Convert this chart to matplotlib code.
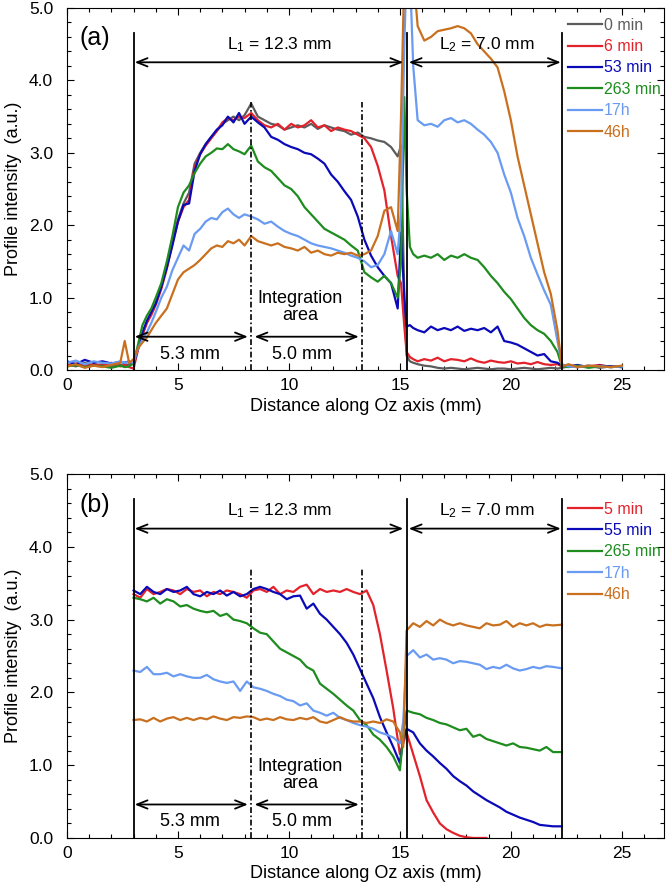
import numpy as np
import matplotlib
matplotlib.use('Agg')
import matplotlib.pyplot as plt
from matplotlib.ticker import MultipleLocator, FormatStrFormatter

plt.rcParams['font.family'] = ['Liberation Sans', 'DejaVu Sans']
plt.rcParams['mathtext.fontset'] = 'custom'
plt.rcParams['mathtext.rm'] = 'Liberation Sans'
plt.rcParams['mathtext.it'] = 'Liberation Sans:italic'

# ---- panel (a) : sampling positions along Oz (mm) ----
xa = [0, 0.4, 0.8, 1.2, 1.6, 2.0, 2.4, 2.6, 2.8,
      3.0, 3.2, 3.4, 3.6, 3.8, 4.0,
      4.25, 4.5, 4.75, 5.0, 5.25, 5.5, 5.75, 6.0, 6.25, 6.5, 6.75, 7.0, 7.25, 7.5, 7.75, 8.0,
      8.3, 8.6, 8.9, 9.2, 9.5, 9.8, 10.1, 10.4, 10.7, 11.0, 11.3, 11.6, 11.9, 12.2, 12.5, 12.8,
      13.1, 13.4, 13.7, 14.0, 14.3, 14.6, 14.9,
      15.05, 15.2, 15.3, 15.45, 15.6, 15.8,
      16.1, 16.4, 16.7, 17.0, 17.3, 17.6, 17.9, 18.2, 18.5, 18.8, 19.1, 19.4, 19.7, 20.0, 20.3,
      20.6, 20.9, 21.2, 21.5, 21.8, 22.1,
      22.3, 22.6, 23.0, 23.5, 24.0, 24.5, 25.0]

a_0min = [0.08, 0.05, 0.1, 0.06, 0.08, 0.05, 0.07, 0.06, 0.08,
          0.08, 0.3, 0.5, 0.66, 0.78, 0.92,
          1.15, 1.45, 1.78, 2.08, 2.3, 2.45, 2.85, 3.0, 3.12, 3.22, 3.3, 3.4, 3.45, 3.5, 3.45, 3.52,
          3.68, 3.5, 3.45, 3.4, 3.38, 3.32, 3.35, 3.38, 3.35, 3.4, 3.33, 3.38, 3.35, 3.32, 3.3, 3.25,
          3.28, 3.22, 3.2, 3.17, 3.15, 3.08, 2.95,
          3.1, 1.0, 0.2, 0.12, 0.1, 0.08,
          0.06, 0.05, 0.03, 0.02, 0.03, 0.02, 0.01, 0.02, 0.03, 0.02, 0.01, 0.02, 0.02, 0.01, 0.02,
          0.03, 0.02, 0.01, 0.02, 0.03, 0.02,
          0.03, 0.05, 0.04, 0.06, 0.03, 0.05, 0.04]

a_6min = [0.06, 0.09, 0.05, 0.08, 0.06, 0.1, 0.05, 0.07, 0.04,
          0.02, 0.28, 0.48, 0.65, 0.76, 0.9,
          1.12, 1.4, 1.75, 2.05, 2.25, 2.35, 2.8, 2.98, 3.1, 3.2, 3.3, 3.42, 3.48, 3.45, 3.5, 3.48,
          3.55, 3.45, 3.38, 3.35, 3.4, 3.32, 3.4, 3.35, 3.38, 3.45, 3.35, 3.38, 3.3, 3.35, 3.32, 3.3,
          3.25, 3.2, 3.08, 2.82, 2.48, 1.85, 1.3,
          1.2, 0.6, 0.25, 0.18, 0.15, 0.12,
          0.15, 0.13, 0.17, 0.12, 0.15, 0.14, 0.12, 0.16, 0.12, 0.1, 0.13, 0.11, 0.1, 0.12, 0.09,
          0.1, 0.08, 0.11, 0.08, 0.07, 0.08,
          0.05, 0.06, 0.04, 0.05, 0.07, 0.04, 0.05]

a_53min = [0.12, 0.08, 0.14, 0.1, 0.12, 0.09, 0.11, 0.1, 0.12,
           0.08, 0.3, 0.52, 0.68, 0.8, 0.92,
           1.15, 1.42, 1.72, 2.05, 2.28, 2.3, 2.75, 2.98, 3.12, 3.22, 3.32, 3.38, 3.5, 3.42, 3.55, 3.4,
           3.5, 3.42, 3.35, 3.22, 3.18, 3.12, 3.08, 3.05, 3.0, 2.98, 2.92, 2.85, 2.7, 2.6, 2.47, 2.35,
           2.12, 1.8, 1.58, 1.42, 1.3, 1.2, 0.85,
           1.9, 1.0, 0.6, 0.62, 0.58, 0.55,
           0.52, 0.6, 0.55, 0.58, 0.55, 0.6, 0.54, 0.57, 0.55, 0.58, 0.52, 0.6, 0.4, 0.38, 0.35,
           0.3, 0.25, 0.2, 0.22, 0.12, 0.1,
           0.06, 0.05, 0.07, 0.04, 0.06, 0.05, 0.04]

a_263min = [0.05, 0.07, 0.04, 0.06, 0.05, 0.03, 0.06, 0.04, 0.05,
            0.1, 0.35, 0.62, 0.75, 0.85, 1.0,
            1.2, 1.5, 1.85, 2.25, 2.45, 2.55, 2.72, 2.85, 2.95, 3.0, 3.06, 3.05, 3.12, 3.05, 3.02, 2.98,
            3.1, 2.88, 2.8, 2.75, 2.65, 2.55, 2.5, 2.4, 2.25, 2.15, 2.05, 1.95, 1.9, 1.85, 1.8, 1.72,
            1.65, 1.35, 1.28, 1.22, 1.3, 1.2, 1.0,
            1.5, 3.77, 2.5, 1.7, 1.6, 1.55,
            1.58, 1.55, 1.6, 1.52, 1.58, 1.55, 1.6, 1.55, 1.52, 1.42, 1.3, 1.2, 1.08, 0.98, 0.85,
            0.72, 0.62, 0.55, 0.5, 0.4, 0.25,
            0.05, 0.04, 0.06, 0.03, 0.05, 0.04, 0.05]

a_17h = [0.1, 0.13, 0.08, 0.12, 0.1, 0.09, 0.12, 0.1, 0.11,
         0.1, 0.3, 0.42, 0.52, 0.65, 0.8,
         1.0, 1.15, 1.38, 1.55, 1.72, 1.65, 1.88, 1.95, 2.05, 2.1, 2.08, 2.18, 2.23, 2.15, 2.1, 2.15,
         2.12, 2.08, 2.02, 2.05, 1.98, 1.92, 1.88, 1.85, 1.8, 1.75, 1.72, 1.7, 1.68, 1.65, 1.62, 1.58,
         1.55, 1.5, 1.42, 1.45, 1.6, 1.92, 1.6,
         2.2, 4.5, 5.5, 5.5, 4.2, 3.45,
         3.38, 3.4, 3.36, 3.45, 3.48, 3.42, 3.45, 3.4, 3.32, 3.25, 3.15, 3.0, 2.7, 2.45, 2.1,
         1.85, 1.55, 1.32, 1.1, 0.9, 0.4,
         0.08, 0.05, 0.04, 0.06, 0.05, 0.04, 0.05]

a_46h = [0.05, 0.08, 0.03, 0.06, 0.04, 0.07, 0.1, 0.4, 0.1,
         0.15, 0.3, 0.38, 0.45, 0.55, 0.65,
         0.75, 0.85, 1.05, 1.25, 1.35, 1.4, 1.45, 1.52, 1.6, 1.68, 1.72, 1.7, 1.78, 1.75, 1.8, 1.72,
         1.85, 1.78, 1.75, 1.72, 1.75, 1.7, 1.68, 1.65, 1.7, 1.62, 1.65, 1.6, 1.58, 1.62, 1.6, 1.62,
         1.58, 1.6, 1.65, 1.85, 2.2, 2.25, 1.92,
         3.5, 5.5, 5.5, 5.5, 5.5, 4.75,
         4.55, 4.6, 4.68, 4.7, 4.72, 4.75, 4.72, 4.65, 4.5, 4.4, 4.3, 4.18, 3.85, 3.45, 2.95,
         2.55, 2.15, 1.75, 1.35, 1.05, 0.55,
         0.05, 0.08, 0.04, 0.06, 0.05, 0.04, 0.06]

# ---- panel (b) ----
xb = [3.0, 3.3, 3.6, 3.9, 4.2, 4.5, 4.8, 5.1, 5.4, 5.7,
      6.0, 6.3, 6.6, 6.9, 7.2, 7.5, 7.8, 8.1, 8.4, 8.7,
      9.0, 9.3, 9.6, 9.9, 10.2, 10.5, 10.8, 11.1, 11.4, 11.7,
      12.0, 12.3, 12.6, 12.9, 13.2, 13.5, 13.8, 14.1, 14.4, 14.7,
      15.0, 15.15, 15.3, 15.6, 15.9, 16.2, 16.5, 16.8, 17.1, 17.4,
      17.7, 18.0, 18.3, 18.6, 18.9, 19.2, 19.5, 19.8, 20.1, 20.4,
      20.7, 21.0, 21.3, 21.6, 21.9, 22.3]

nan = np.nan
b_5min = [3.35, 3.3, 3.42, 3.35, 3.38, 3.42, 3.4, 3.35, 3.42, 3.38,
          3.4, 3.32, 3.38, 3.35, 3.4, 3.38, 3.35, 3.3, 3.4, 3.42,
          3.38, 3.45, 3.35, 3.4, 3.38, 3.45, 3.48, 3.35, 3.42, 3.38,
          3.4, 3.38, 3.42, 3.38, 3.35, 3.4, 3.2, 2.8, 2.3, 1.78,
          1.15, 1.3, 1.45, 1.15, 0.85, 0.52, 0.35, 0.2, 0.12, 0.07,
          0.03, 0.01, 0.0, 0.0, 0.0, nan, nan, nan, nan, nan,
          nan, nan, nan, nan, nan, nan]

b_55min = [3.4, 3.35, 3.45, 3.38, 3.35, 3.42, 3.38, 3.4, 3.45, 3.35,
           3.32, 3.38, 3.35, 3.4, 3.33, 3.38, 3.32, 3.35, 3.42, 3.45,
           3.42, 3.38, 3.35, 3.28, 3.32, 3.33, 3.15, 3.22, 3.08, 3.0,
           2.9, 2.8, 2.68, 2.52, 2.32, 2.12, 1.92, 1.66, 1.45, 1.25,
           1.03, 1.35, 1.5, 1.45, 1.3, 1.2, 1.12, 1.03, 0.95, 0.85,
           0.78, 0.72, 0.64, 0.58, 0.52, 0.47, 0.42, 0.36, 0.32, 0.28,
           0.25, 0.22, 0.18, 0.17, 0.16, 0.16]

b_265min = [3.3, 3.28, 3.25, 3.3, 3.22, 3.28, 3.25, 3.18, 3.2, 3.15,
            3.12, 3.1, 3.12, 3.05, 3.08, 3.0, 2.98, 2.95, 2.88, 2.82,
            2.8, 2.7, 2.6, 2.55, 2.5, 2.45, 2.35, 2.3, 2.12, 2.05,
            1.98, 1.9, 1.82, 1.75, 1.62, 1.55, 1.42, 1.35, 1.25, 1.12,
            0.93, 1.4, 1.75, 1.72, 1.7, 1.65, 1.62, 1.58, 1.56, 1.52,
            1.48, 1.5, 1.39, 1.42, 1.36, 1.33, 1.3, 1.27, 1.3, 1.25,
            1.24, 1.22, 1.2, 1.25, 1.18, 1.18]

b_17h = [2.3, 2.28, 2.35, 2.25, 2.25, 2.27, 2.22, 2.25, 2.22, 2.2,
         2.2, 2.24, 2.18, 2.15, 2.13, 2.15, 2.02, 2.15, 2.07, 2.05,
         2.02, 1.98, 1.95, 1.9, 1.88, 1.82, 1.85, 1.75, 1.72, 1.68,
         1.72, 1.65, 1.62, 1.58, 1.55, 1.53, 1.5, 1.45, 1.42, 1.38,
         1.3, 1.6, 2.5, 2.58, 2.48, 2.52, 2.45, 2.47, 2.45, 2.4,
         2.43, 2.42, 2.4, 2.38, 2.32, 2.35, 2.33, 2.38, 2.33, 2.3,
         2.32, 2.35, 2.33, 2.36, 2.35, 2.33]

b_46h = [1.62, 1.63, 1.6, 1.65, 1.6, 1.64, 1.66, 1.62, 1.65, 1.62,
         1.65, 1.63, 1.67, 1.64, 1.62, 1.66, 1.65, 1.67, 1.66, 1.62,
         1.64, 1.62, 1.66, 1.63, 1.62, 1.65, 1.63, 1.66, 1.6, 1.58,
         1.62, 1.66, 1.62, 1.6, 1.6, 1.58, 1.6, 1.58, 1.63, 1.6,
         1.45, 1.25, 2.85, 2.95, 2.9, 2.98, 2.92, 3.0, 2.95, 2.92,
         2.95, 2.92, 2.9, 2.88, 2.95, 2.92, 2.93, 2.98, 2.9, 2.95,
         2.92, 2.95, 2.9, 2.93, 2.92, 2.93]

labels_a = ['0 min', '6 min', '53 min', '263 min', '17h', '46h']
labels_b = ['5 min', '55 min', '265 min', '17h', '46h']

c_gray, c_red, c_blue = '#5c5c5c', '#e3222b', '#0a0ab8'
c_green, c_lblue, c_orange = '#1e8c1e', '#6a9bf2', '#c9701f'
colors_a = [c_gray, c_red, c_blue, c_green, c_lblue, c_orange]
colors_b = [c_red, c_blue, c_green, c_lblue, c_orange]

# geometry of the cell (mm)
x_in, x_mid, x_out = 3.0, 15.3, 22.3
x_int1, x_int2 = 8.3, 13.3

fig = plt.figure(figsize=(6.66, 8.89), dpi=100)
ax_a = fig.add_axes([0.1006, 0.5838, 0.8964, 0.4072])
ax_b = fig.add_axes([0.1006, 0.0574, 0.8964, 0.4094])


def decorate(ax, tag):
    ax.set_xlim(0, 26.9)
    ax.set_ylim(0, 5.0)
    ax.xaxis.set_major_locator(MultipleLocator(5))
    ax.xaxis.set_minor_locator(MultipleLocator(1))
    ax.yaxis.set_major_locator(MultipleLocator(1))
    ax.yaxis.set_minor_locator(MultipleLocator(0.2))
    ax.yaxis.set_major_formatter(FormatStrFormatter('%.1f'))
    ax.tick_params(which='both', direction='in', top=True, right=True, width=0.8)
    ax.tick_params(which='major', length=5, labelsize=12.5)
    ax.tick_params(which='minor', length=3)
    ax.tick_params(axis='y', pad=10)
    ax.tick_params(axis='x', pad=6)
    for s in ax.spines.values():
        s.set_linewidth(0.8)
    ax.set_xlabel('Distance along Oz axis (mm)', fontsize=13, labelpad=3)
    ax.set_ylabel('Profile intensity  (a.u.)', fontsize=13, labelpad=5)

    # cell boundaries and integration limits
    for xv in (x_in, x_mid, x_out):
        ax.plot([xv, xv], [0, 4.65], color='black', lw=1.3, zorder=5)
    for xv in (x_int1, x_int2):
        ax.plot([xv, xv], [0, 3.7], color='black', lw=1.2,
                linestyle=(0, (3.5, 1.5, 1, 1.5)), zorder=5)

    arr = dict(arrowstyle='<->,head_length=0.75,head_width=0.3', color='black',
               lw=1.3, shrinkA=0, shrinkB=0)
    ax.annotate('', xy=(x_in + 0.05, 4.25), xytext=(x_mid - 0.15, 4.25), arrowprops=arr)
    ax.annotate('', xy=(x_mid + 0.1, 4.25), xytext=(x_out - 0.05, 4.25), arrowprops=arr)
    ax.annotate('', xy=(x_in + 0.05, 0.46), xytext=(x_int1 - 0.15, 0.46), arrowprops=arr)
    ax.annotate('', xy=(x_int1 + 0.15, 0.46), xytext=(x_int2 - 0.15, 0.46), arrowprops=arr)

    ax.text(9.6, 4.5, r'L$_1$ = 12.3 mm', fontsize=12.5, ha='center', va='center')
    ax.text(18.9, 4.5, r'L$_2$ = 7.0 mm', fontsize=12.5, ha='center', va='center')
    ax.text(5.55, 0.22, '5.3 mm', fontsize=13, ha='center', va='center')
    ax.text(10.6, 0.22, '5.0 mm', fontsize=13, ha='center', va='center')
    ax.text(10.5, 0.87, 'Integration\narea', fontsize=13, ha='center', va='center',
            linespacing=1.0)
    ax.text(1.25, 4.58, tag, fontsize=18, ha='center', va='center')


for y, lab, col in zip([a_0min, a_6min, a_53min, a_263min, a_17h, a_46h], labels_a, colors_a):
    ax_a.plot(xa, y, color=col, lw=1.6, label=lab)
for y, lab, col in zip([b_5min, b_55min, b_265min, b_17h, b_46h], labels_b, colors_b):
    ax_b.plot(xb, y, color=col, lw=1.6, label=lab)

decorate(ax_a, '(a)')
decorate(ax_b, '(b)')

for ax, ytop in ((ax_a, 0.982), (ax_b, 0.933)):
    ax.legend(loc='upper right', bbox_to_anchor=(1.0, ytop), frameon=False, fontsize=11.5,
              handlelength=2.1, handletextpad=0.15, labelspacing=0.4, borderaxespad=0.0,
              borderpad=0.2, labelcolor='linecolor')

fig.savefig('out.png', dpi=100)
